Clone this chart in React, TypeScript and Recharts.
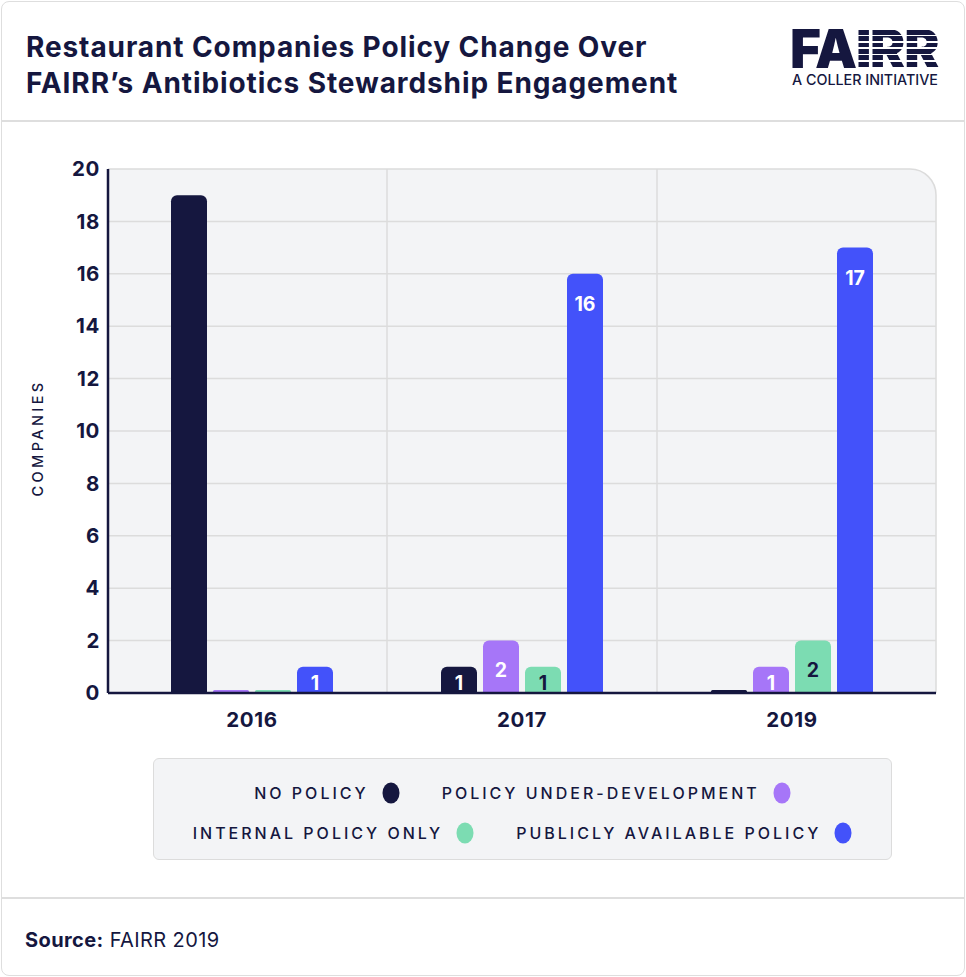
import React from 'react';
import { BarChart, Bar, XAxis, YAxis, CartesianGrid, Legend, LabelList, usePlotArea } from 'recharts';

const years = ['2016', '2017', '2019'];
const noPolicy = [19, 1, 0];
const noPolicyLabels = ['', '1', ''];
const underDevelopment = [0, 2, 1];
const internalOnly = [0, 1, 2];
const publiclyAvailable = [1, 16, 17];
const yTicks = [0, 2, 4, 6, 8, 10, 12, 14, 16, 18, 20];
const seriesKeys = ['none', 'dev', 'internal', 'public'];
const labelKeys = ['noneLabel', 'dev', 'internal', 'public'];
const seriesNames = ['NO POLICY', 'POLICY UNDER-DEVELOPMENT', 'INTERNAL POLICY ONLY', 'PUBLICLY AVAILABLE POLICY'];
const seriesColors = ['#15173f', '#a676f8', '#7cdcb2', '#4352fa'];
const labelColors = ['#ffffff', '#ffffff', '#15173f', '#ffffff'];

const data = years.map((year, i) => ({
  year,
  none: noPolicy[i],
  noneLabel: noPolicyLabels[i],
  dev: underDevelopment[i],
  internal: internalOnly[i],
  public: publiclyAvailable[i],
}));

const NAVY = '#15173f';
const FONT = 'Inter, Roboto, sans-serif';

function PlotCorner() {
  const area = usePlotArea();
  if (!area) return null;
  const { x, y, width, height } = area;
  const r = 26;
  const R = x + width;
  const mask = `M${R - r},${y - 2} L${R + 2},${y - 2} L${R + 2},${y + r} L${R},${y + r} A${r},${r} 0 0 0 ${R - r},${y} Z`;
  const outline = `M${x},${y} L${R - r},${y} A${r},${r} 0 0 1 ${R},${y + r} L${R},${y + height}`;
  return (
    <g>
      <path d={mask} fill="#ffffff" />
      <path d={outline} fill="none" stroke="#dcdcdc" strokeWidth={1.5} />
    </g>
  );
}

const makeLabel = (color: string) => (props: any) => {
  const { x, y, width, height, value } = props;
  if (!value) return null;
  const cy = y + Math.min(30, height / 2 + 3);
  return (
    <text x={x + width / 2} y={cy} fill={color} textAnchor="middle" dominantBaseline="central"
      fontFamily={FONT} fontWeight={700} fontSize={19.5}>
      {value}
    </text>
  );
};

function LegendBox(props: any) {
  const payload = [...(props.payload || [])].sort(
    (a: any, b: any) => seriesNames.indexOf(a.value) - seriesNames.indexOf(b.value));
  const rows = [payload.slice(0, 2), payload.slice(2, 4)];
  return (
    <div style={{
      width: '100%', height: '100%', boxSizing: 'border-box', background: '#f3f4f6',
      border: '1.5px solid #dcdcdc', borderRadius: 6, display: 'flex', flexDirection: 'column',
      justifyContent: 'center', alignItems: 'center', gap: 14, paddingTop: 8,
    }}>
      {rows.map((row: any[], ri: number) => (
        <div key={ri} style={{ display: 'flex', alignItems: 'center', height: 26 }}>
          {row.map((item: any, i: number) => (
            <div key={i} style={{ display: 'flex', alignItems: 'center', marginLeft: i === 0 ? 0 : 42 }}>
              <span style={{ fontFamily: FONT, fontWeight: 500, fontSize: 16, letterSpacing: 3.0, color: NAVY }}>
                {item.value}
              </span>
              <svg width={18} height={22} style={{ marginLeft: 13 }}>
                <ellipse cx={9} cy={11} rx={8.5} ry={10.5} fill={item.color} />
              </svg>
            </div>
          ))}
        </div>
      ))}
    </div>
  );
}

function Logo() {
  return (
    <div style={{ position: 'absolute', left: 790, top: 26 }}>
      <div style={{ fontFamily: FONT, fontWeight: 900, fontSize: 53, lineHeight: '46px', letterSpacing: -1.2, color: NAVY, whiteSpace: 'nowrap' }}>
        FA
        <span style={{
          color: 'transparent',
          backgroundImage: `repeating-linear-gradient(to bottom, ${NAVY} 0px, ${NAVY} 4.8px, #ffffff 4.8px, #ffffff 6.4px)`,
          WebkitBackgroundClip: 'text', backgroundClip: 'text',
        }}>IRR</span>
      </div>
      <div style={{ fontFamily: FONT, fontWeight: 500, fontSize: 14.3, lineHeight: '16px', color: NAVY, marginTop: 0, marginLeft: 2, whiteSpace: 'nowrap' }}>
        A COLLER INITIATIVE
      </div>
    </div>
  );
}

const applyScale = (scale: any, v: any) => {
  if (!scale) return undefined;
  if (typeof scale === 'function') return scale(v);
  if (typeof scale.map === 'function') return scale.map(v);
  if (typeof scale.apply === 'function') return scale.apply(v);
  return undefined;
};

const hGen = (p: any) => {
  const vals = yTicks.filter(t => t < 20).map(t => applyScale(p.yAxis?.scale, t));
  if (vals.every(v => typeof v === 'number' && !isNaN(v))) return vals;
  return [];
};

const vGen = (p: any) => {
  const vals = years.slice(1).map(c => applyScale(p.xAxis?.scale, c));
  if (vals.every(v => typeof v === 'number' && !isNaN(v))) return vals;
  return [];
};

const tickStyle = { fill: NAVY, fontFamily: FONT, fontWeight: 700, fontSize: 20.5, letterSpacing: 0.6 };

export default function App() {
  return (
    <div style={{ position: 'absolute', left: 0, top: 0, width: 966, height: 977, background: '#fff', fontFamily: FONT }}>
      <div style={{ position: 'absolute', left: 1, top: 1, width: 962, height: 973, border: '1.5px solid #dedede', borderRadius: 8 }} />
      <div style={{ position: 'absolute', left: 1, top: 120, width: 963, height: 1.5, background: '#dedede' }} />
      <div style={{ position: 'absolute', left: 1, top: 897, width: 963, height: 1.5, background: '#dedede' }} />
      <div style={{ position: 'absolute', left: 26, top: 29, fontFamily: FONT, fontWeight: 700, fontSize: 28, lineHeight: '36px', color: NAVY, letterSpacing: 0.9, whiteSpace: 'nowrap' }}>
        <div>Restaurant Companies Policy Change Over</div>
        <div>FAIRR’s Antibiotics Stewardship Engagement</div>
      </div>
      <Logo />
      <div style={{ position: 'absolute', left: 25, top: 928, fontFamily: FONT, fontSize: 20, letterSpacing: 0.4, color: NAVY }}>
        <span style={{ fontWeight: 700 }}>Source:</span> FAIRR 2019
      </div>
      <div style={{ position: 'absolute', left: 0, top: 121 }}>
        <BarChart width={966} height={776} data={data} margin={{ top: 48, right: 30, left: 0, bottom: 164 }}
          barSize={36} barGap={6}>
          <CartesianGrid stroke="#dcdcdc" strokeWidth={1.5} fill="#f3f4f6" fillOpacity={1}
            horizontalCoordinatesGenerator={hGen}
            verticalCoordinatesGenerator={vGen} />
          <PlotCorner />
          <XAxis dataKey="year" padding={{ left: 9, right: 9 }} height={40} tickLine={false} tickSize={0} tickMargin={19}
            axisLine={{ stroke: NAVY, strokeWidth: 2.5 }} tick={tickStyle} />
          <YAxis domain={[0, 20]} ticks={yTicks} width={108} tickLine={false} tickSize={0} tickMargin={8}
            axisLine={{ stroke: NAVY, strokeWidth: 2.5 }} interval={0} tick={tickStyle}
            label={{
              content: (lp: any) => {
                const vb = lp.viewBox || { x: 0, y: 169, width: 108, height: 524 };
                const cx = vb.x + 37;
                const cy = vb.y + vb.height / 2 + 7;
                return (
                  <text x={cx} y={cy} transform={`rotate(-90 ${cx} ${cy})`} textAnchor="middle" dominantBaseline="central"
                    fill={NAVY} fontFamily={FONT} fontWeight={500} fontSize={14.5} letterSpacing={3.4}>
                    COMPANIES
                  </text>
                );
              },
            }} />
          <Legend layout="vertical" verticalAlign="middle" align="center" content={<LegendBox />}
            wrapperStyle={{ left: 153, top: 637, width: 739, height: 102 }} />
          {seriesKeys.map((k, i) => (
            <Bar key={k} dataKey={k} name={seriesNames[i]} fill={seriesColors[i]} radius={[6, 6, 0, 0]}
              minPointSize={3} isAnimationActive={false}>
              <LabelList dataKey={labelKeys[i]} content={makeLabel(labelColors[i])} />
            </Bar>
          ))}
        </BarChart>
      </div>
    </div>
  );
}
